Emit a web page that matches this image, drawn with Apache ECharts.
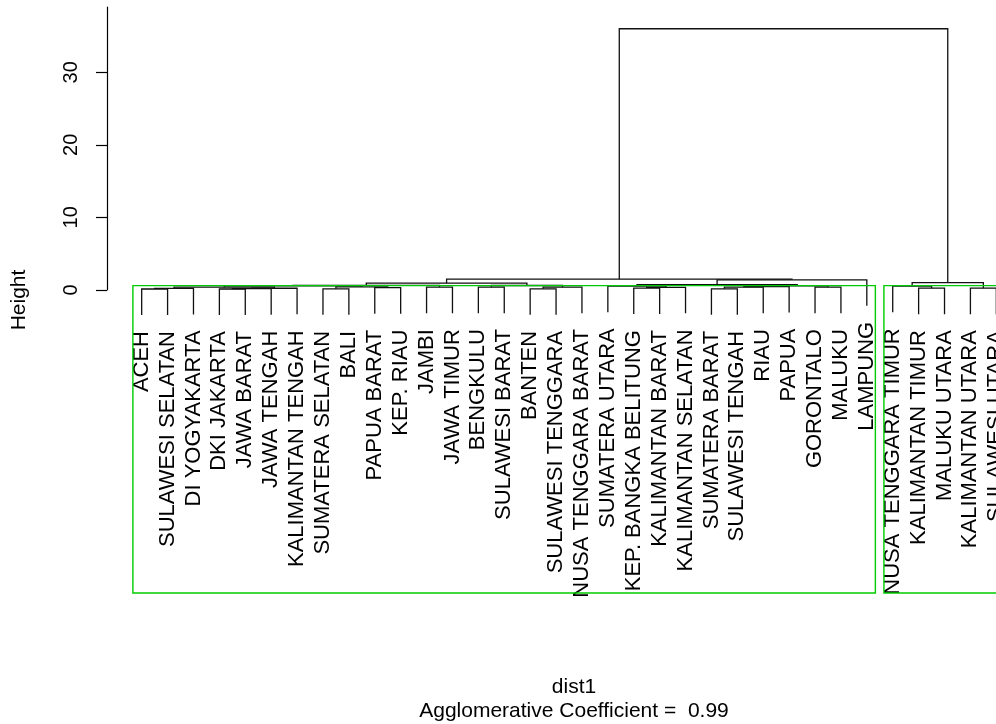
<!DOCTYPE html>
<html>
<head>
<meta charset="utf-8">
<script src="https://cdn.jsdelivr.net/npm/echarts@6/dist/echarts.min.js"></script>
<style>
html,body{margin:0;padding:0;background:#fff;}
#chart{width:996px;height:724px;}
</style>
</head>
<body>
<div id="chart"></div>
<script>
// ---- data ----
const leafOrder = ["ACEH","SULAWESI SELATAN","DI YOGYAKARTA","DKI JAKARTA","JAWA BARAT","JAWA TENGAH","KALIMANTAN TENGAH","SUMATERA SELATAN","BALI","PAPUA BARAT","KEP. RIAU","JAMBI","JAWA TIMUR","BENGKULU","SULAWESI BARAT","BANTEN","SULAWESI TENGGARA","NUSA TENGGARA BARAT","SUMATERA UTARA","KEP. BANGKA BELITUNG","KALIMANTAN BARAT","KALIMANTAN SELATAN","SUMATERA BARAT","SULAWESI TENGAH","RIAU","PAPUA","GORONTALO","MALUKU","LAMPUNG","NUSA TENGGARA TIMUR","KALIMANTAN TIMUR","MALUKU UTARA","KALIMANTAN UTARA","SULAWESI UTARA"];

// merges: strings are leaves, numbers refer to earlier merges (0-based)
const merges = [
  ["ACEH","SULAWESI SELATAN"],
  [0,"DI YOGYAKARTA"],
  ["DKI JAKARTA","JAWA BARAT"],
  [2,"JAWA TENGAH"],
  [3,"KALIMANTAN TENGAH"],
  [1,4],
  ["SUMATERA SELATAN","BALI"],
  ["PAPUA BARAT","KEP. RIAU"],
  [6,7],
  [5,8],
  ["JAMBI","JAWA TIMUR"],
  [9,10],
  ["BENGKULU","SULAWESI BARAT"],
  ["BANTEN","SULAWESI TENGGARA"],
  [13,"NUSA TENGGARA BARAT"],
  [12,14],
  [11,15],
  ["KEP. BANGKA BELITUNG","KALIMANTAN BARAT"],
  [17,"KALIMANTAN SELATAN"],
  ["SUMATERA UTARA",18],
  ["SUMATERA BARAT","SULAWESI TENGAH"],
  [20,"RIAU"],
  [21,"PAPUA"],
  ["GORONTALO","MALUKU"],
  [22,23],
  [19,24],
  [25,"LAMPUNG"],
  [16,26],
  ["KALIMANTAN TIMUR","MALUKU UTARA"],
  ["NUSA TENGGARA TIMUR",28],
  ["KALIMANTAN UTARA","SULAWESI UTARA"],
  [29,30],
  [27,31]
];
const mergeHeights = [0.12,0.2,0.12,0.16,0.22,0.37,0.14,0.3,0.4,0.55,0.37,0.62,0.37,0.14,0.37,0.6,0.92,0.25,0.35,0.5,0.14,0.37,0.45,0.37,0.55,0.7,1.38,1.47,0.23,0.5,0.23,1.0,36.0];

const clusterRanges = [["ACEH","LAMPUNG"],["NUSA TENGGARA TIMUR","SULAWESI UTARA"]];
const clusterRectTop = 0.58;
const yTicks = [0,10,20,30];
const xLabel = "dist1";
const subLabel = "Agglomerative Coefficient =  0.99";
const yLabel = "Height";

// ---- layout from data ----
const FONT = "'Liberation Sans', Arial, Helvetica, sans-serif";
const hMax = Math.max(...mergeHeights), hMin = Math.min(...mergeHeights);
const hang = 0.1 * (hMax - hMin);
const n = leafOrder.length;
const xMin = 1 - 0.04 * (n - 1), xMax = n + 0.04 * (n - 1);
const yMin = -41.8, yMax = 39;

const leafX = {};
leafOrder.forEach((nm, i) => leafX[nm] = i + 1);
const nodeX = [];
const leafEnd = {};
merges.forEach((m, i) => {
  const xs = m.map(c => typeof c === 'string' ? leafX[c] : nodeX[c]);
  nodeX[i] = (xs[0] + xs[1]) / 2;
  m.forEach(c => { if (typeof c === 'string') leafEnd[c] = mergeHeights[i] - hang; });
});
const treeData = merges.map((m, i) => {
  const xs = m.map(c => typeof c === 'string' ? leafX[c] : nodeX[c]);
  const ys = m.map(c => typeof c === 'string' ? leafEnd[c] : mergeHeights[c]);
  return [xs[0], xs[1], mergeHeights[i], ys[0], ys[1]];
});
const labelData = leafOrder.map(nm => [leafX[nm], leafEnd[nm]]);
const rectData = clusterRanges.map(r => [leafX[r[0]] - 0.34, leafX[r[1]] + 0.33, clusterRectTop, yMin]);

const gridLeft = 107.5, gridTop = 7, gridW = 923, gridH = 586;
const zeroY = gridTop + gridH * (yMax - 0) / (yMax - yMin);

const chart = echarts.init(document.getElementById('chart'), null, {renderer: 'canvas'});
chart.setOption({
  animation: false,
  backgroundColor: '#ffffff',
  textStyle: {fontFamily: FONT},
  title: [
    {text: xLabel, left: gridLeft + gridW / 2, top: 672, textAlign: 'center',
     textStyle: {fontFamily: FONT, fontSize: 21, fontWeight: 'normal', color: '#000'}},
    {text: subLabel, left: gridLeft + gridW / 2, top: 696, textAlign: 'center',
     textStyle: {fontFamily: FONT, fontSize: 21, fontWeight: 'normal', color: '#000'}}
  ],
  grid: [
    {left: gridLeft, top: gridTop, width: gridW, height: gridH, outerBoundsMode: 'none', containLabel: false},
    {left: 107, top: gridTop, width: 1, height: zeroY - gridTop, outerBoundsMode: 'none', containLabel: false}
  ],
  xAxis: [
    {type: 'value', gridIndex: 0, min: xMin, max: xMax, show: false},
    {type: 'value', gridIndex: 1, min: 0, max: 1, show: false}
  ],
  yAxis: [
    {type: 'value', gridIndex: 0, min: yMin, max: yMax,
     axisLine: {show: false}, axisTick: {show: false}, axisLabel: {show: false}, splitLine: {show: false},
     name: yLabel, nameLocation: 'middle', nameGap: 78, nameRotate: 90,
     nameTextStyle: {fontFamily: FONT, fontSize: 21, color: '#000'}},
    {type: 'value', gridIndex: 1, min: 0, max: yMax,
     axisLine: {show: true, lineStyle: {color: '#000', width: 1.2}},
     axisTick: {show: true, length: 11, customValues: yTicks, lineStyle: {color: '#000', width: 1.2}},
     axisLabel: {show: true, customValues: yTicks, rotate: 90, margin: 26, fontFamily: FONT, fontSize: 20, color: '#000'},
     splitLine: {show: false}}
  ],
  series: [
    {
      type: 'custom', xAxisIndex: 0, yAxisIndex: 0, silent: true,
      encode: {x: [0, 1], y: [2, 3, 4]},
      data: treeData,
      renderItem: function (params, api) {
        const p1 = api.coord([api.value(0), api.value(3)]);
        const p2 = api.coord([api.value(0), api.value(2)]);
        const p3 = api.coord([api.value(1), api.value(2)]);
        const p4 = api.coord([api.value(1), api.value(4)]);
        return {type: 'polyline', shape: {points: [p1, p2, p3, p4]},
                style: {stroke: '#111', fill: null, lineWidth: 1.3}};
      }
    },
    {
      type: 'custom', xAxisIndex: 0, yAxisIndex: 0, silent: true,
      encode: {x: 0, y: 1},
      data: labelData,
      renderItem: function (params, api) {
        const p = api.coord([api.value(0), api.value(1)]);
        return {type: 'text', x: p[0], y: p[1] + 16, rotation: Math.PI / 2,
                style: {text: leafOrder[params.dataIndex], align: 'right', verticalAlign: 'middle',
                        fontFamily: FONT, fontSize: 22, fill: '#000'}};
      }
    },
    {
      type: 'custom', xAxisIndex: 0, yAxisIndex: 0, silent: true,
      encode: {x: [0, 1], y: [2, 3]},
      data: rectData,
      renderItem: function (params, api) {
        const a = api.coord([api.value(0), api.value(2)]);
        const b = api.coord([api.value(1), api.value(3)]);
        return {type: 'rect', shape: {x: a[0], y: a[1], width: b[0] - a[0], height: b[1] - a[1]},
                style: {stroke: '#00CC00', fill: null, lineWidth: 1.4}};
      }
    }
  ]
});
</script>
</body>
</html>
